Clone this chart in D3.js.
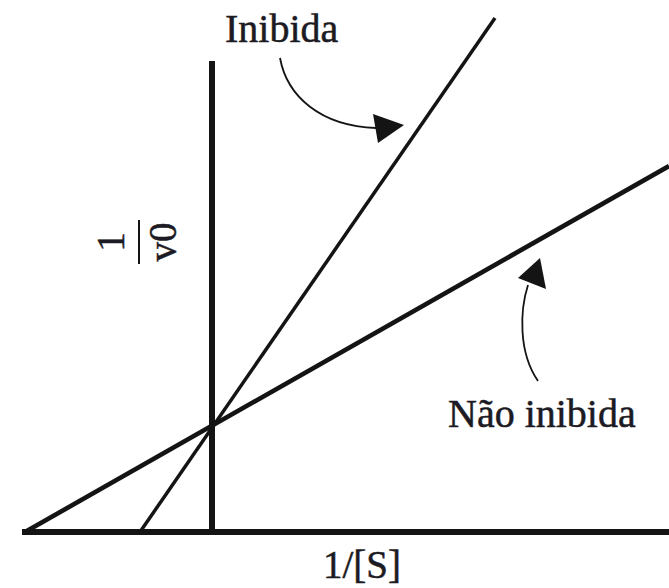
<!DOCTYPE html>
<html>
<head>
<meta charset="utf-8">
<script src="https://cdn.jsdelivr.net/npm/d3@7"></script>
<style>
  html, body { margin: 0; padding: 0; background: #fff; }
  svg { display: block; }
  text { font-family: "Liberation Serif", "Times New Roman", serif; fill: #1c1a22; stroke: #1c1a22; stroke-width: 0.5; }
</style>
</head>
<body>
<svg id="chart" width="669" height="588"></svg>
<script>
// Lineweaver–Burk plot: 1/v0 against 1/[S], with and without a competitive inhibitor
const seriesNames = ["Inibida", "Não inibida"];
const inhibitedX = [-0.72, 2.83];     // 1/[S]
const inhibitedY = [0, 5.14];         // 1/v0
const uninhibitedX = [-1.87, 4.57];   // 1/[S]
const uninhibitedY = [0, 3.66];       // 1/v0
const xAxisExtent = [-1.9, 4.57];
const yAxisExtent = [0, 4.71];
const xAxisTitle = "1/[S]";
const yAxisNumerator = "1";
const yAxisDenominator = "v0";

const svg = d3.select("#chart");
const x = d3.scaleLinear().domain([-1.9, 4.57]).range([22, 669]);
const y = d3.scaleLinear().domain([0, 5.32]).range([532, 0]);

const ink = "#141414";
const line = d3.line().x(d => x(d[0])).y(d => y(d[1]));

// axes
svg.append("line")
  .attr("x1", x(xAxisExtent[0])).attr("x2", x(xAxisExtent[1]))
  .attr("y1", y(0)).attr("y2", y(0))
  .attr("stroke", ink).attr("stroke-width", 6);
svg.append("line")
  .attr("x1", x(0)).attr("x2", x(0))
  .attr("y1", y(yAxisExtent[0]) + 3).attr("y2", y(yAxisExtent[1]))
  .attr("stroke", ink).attr("stroke-width", 6);

// series lines
const series = [
  { name: seriesNames[0], pts: d3.zip(inhibitedX, inhibitedY), width: 3.5 },
  { name: seriesNames[1], pts: d3.zip(uninhibitedX, uninhibitedY), width: 4.6 }
];
svg.selectAll("path.series").data(series).join("path")
  .attr("class", "series")
  .attr("d", d => line(d.pts))
  .attr("fill", "none")
  .attr("stroke", ink)
  .attr("stroke-width", d => d.width);

// axis titles
svg.append("text")
  .attr("x", x(1.5)).attr("y", 578)
  .attr("text-anchor", "middle")
  .attr("font-size", 39)
  .text(xAxisTitle);

const frac = svg.append("g").attr("transform", "translate(139,242) rotate(-90)");
frac.append("text").attr("x", 0).attr("y", -15)
  .attr("text-anchor", "middle").attr("font-size", 39).text(yAxisNumerator);
frac.append("line").attr("x1", -22).attr("x2", 22).attr("y1", 0).attr("y2", 0)
  .attr("stroke", ink).attr("stroke-width", 2);
frac.append("text").attr("x", 0).attr("y", 37)
  .attr("text-anchor", "middle").attr("font-size", 39).text(yAxisDenominator);

// series labels with curved pointer arrows
const labels = [
  { text: seriesNames[0], x: 225, y: 42,
    curve: [[280, 58], [287, 96], [320, 126], [376, 128]],
    head: [[373, 114], [378, 143], [404, 125]] },
  { text: seriesNames[1], x: 448, y: 427,
    curve: [[538, 381], [518, 352], [520, 310], [528, 285]],
    head: [[518, 278], [546, 289], [540, 258]] }
];
labels.forEach(l => {
  svg.append("text").attr("x", l.x).attr("y", l.y)
    .attr("font-size", 40).text(l.text);
  const p = d3.path();
  p.moveTo(...l.curve[0]);
  p.bezierCurveTo(...l.curve[1], ...l.curve[2], ...l.curve[3]);
  svg.append("path").attr("d", p.toString())
    .attr("fill", "none").attr("stroke", ink).attr("stroke-width", 1.8);
  svg.append("path").attr("d", "M" + l.head.join("L") + "Z").attr("fill", ink);
});
</script>
</body>
</html>
